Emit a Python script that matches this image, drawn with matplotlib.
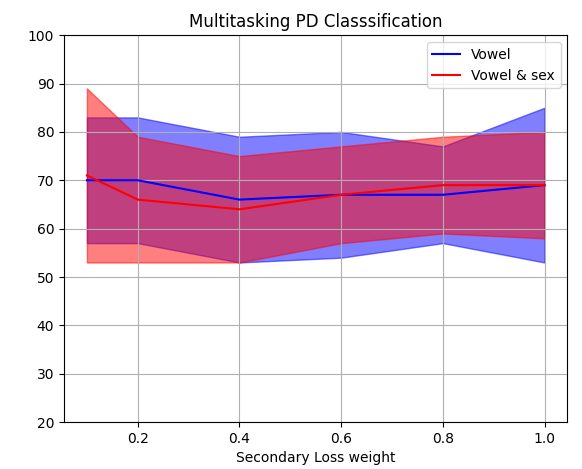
import matplotlib
matplotlib.use("Agg")
import matplotlib.pyplot as plt

x = [0.1, 0.2, 0.4, 0.6, 0.8, 1.0]
vowel = [70, 70, 66, 67, 67, 69]
vowel_hi = [83, 83, 79, 80, 77, 85]
vowel_lo = [57, 57, 53, 54, 57, 53]
vs = [71, 66, 64, 67, 69, 69]
vs_hi = [89, 79, 75, 77, 79, 80]
vs_lo = [53, 53, 53, 57, 59, 58]

fig, ax = plt.subplots(figsize=(5.82, 4.69), dpi=100)
ax.plot(x, vowel, color='blue', label='Vowel')
ax.fill_between(x, vowel_lo, vowel_hi, color='blue', alpha=0.5)
ax.plot(x, vs, color='red', label='Vowel & sex')
ax.fill_between(x, vs_lo, vs_hi, color='red', alpha=0.5)
ax.set_ylim(20, 100)
ax.grid(True)
ax.set_xlabel('Secondary Loss weight')
ax.set_title('Multitasking PD Classsification')
ax.legend(loc='upper right')
fig.subplots_adjust(left=0.11, right=0.975, top=0.925, bottom=0.1)
fig.savefig('out.png')
